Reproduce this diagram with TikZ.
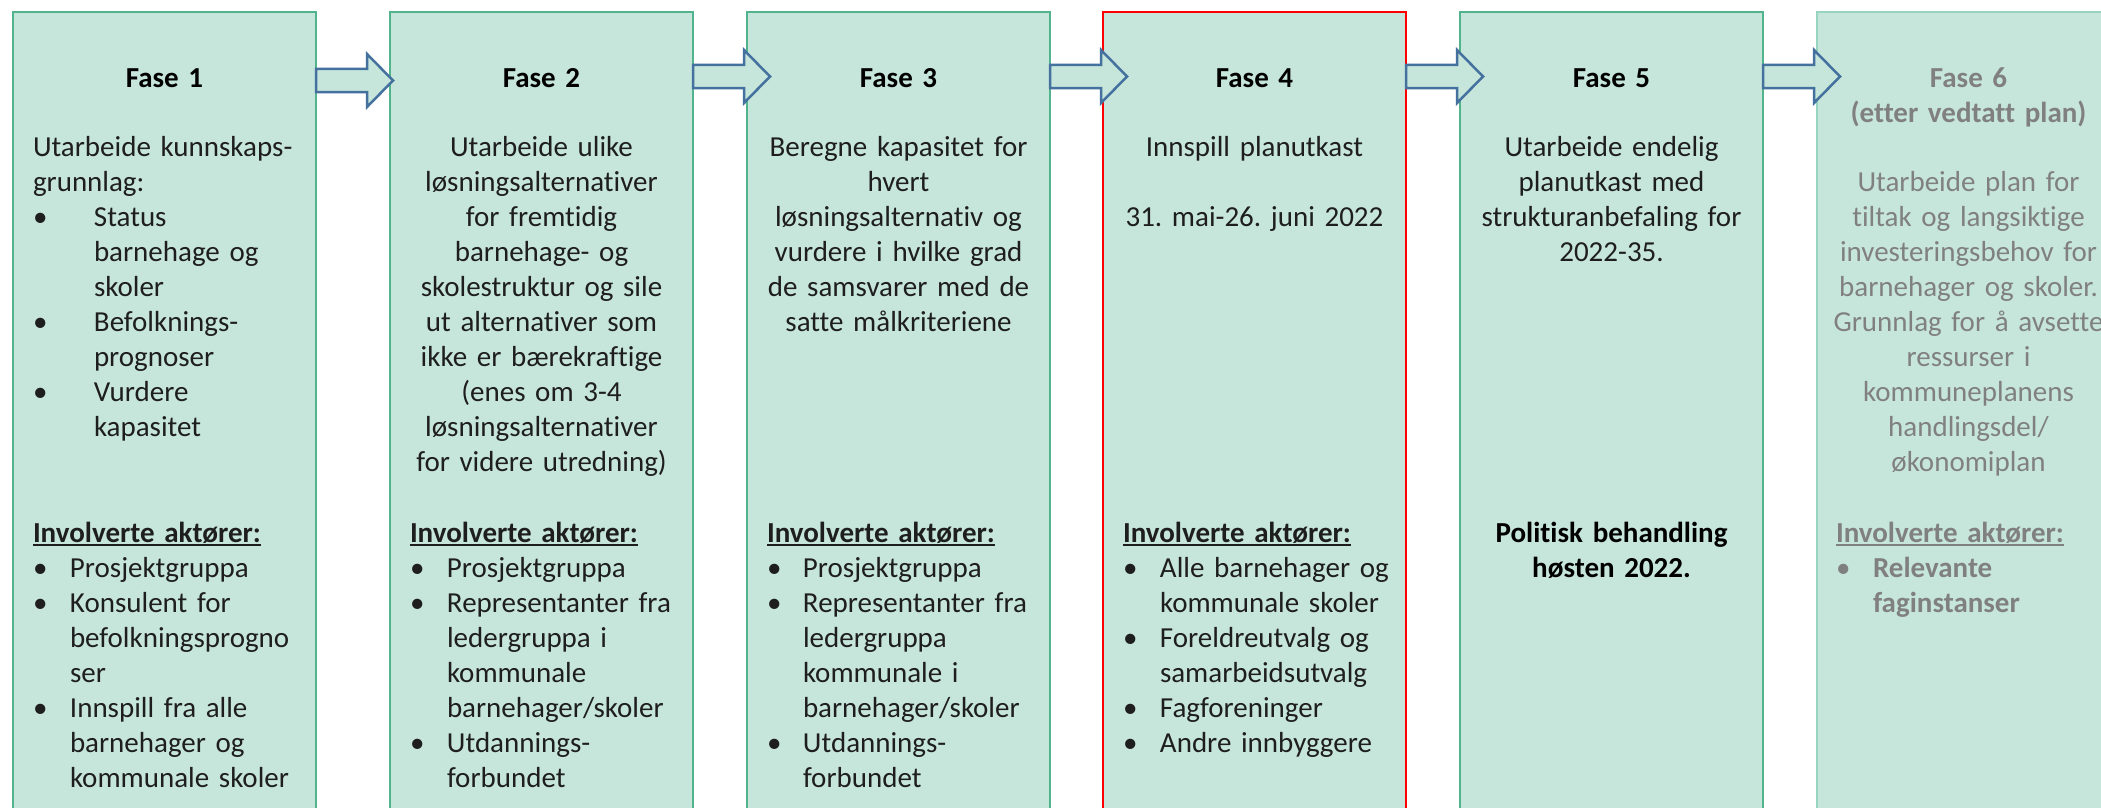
\documentclass[tikz,border=0pt]{standalone}
\usepackage{fontspec}
\setmainfont{Carlito}[Ligatures={NoCommon,NoContextual}, Contextuals={NoAlternate}]
\usetikzlibrary{calc}
\frenchspacing
\definecolor{boxfill}{HTML}{C7E6DB}
\definecolor{boxgreen}{HTML}{52B48C}
\definecolor{boxpale}{HTML}{98D5BE}
\definecolor{arrowblue}{HTML}{44719E}
\definecolor{fadegray}{HTML}{808080}
\definecolor{bodyblack}{HTML}{1E1E1E}
\newcommand\bodyfont{\fontsize{29pt}{35.1pt}\selectfont}
\newcommand\sst{\rule{0pt}{30pt}}
\newcommand\bl[1]{\makebox[#1pt][l]{•}}
\newcommand\idt[1]{\hspace*{#1pt}}
\newcommand\ulx[1]{\setbox0\hbox{#1}\rlap{\rule[-4pt]{\wd0}{2pt}}\box0}
\newcommand\phasearrow[2]{\draw[barrow] ($(#1.north east)+(0,#2-11.5)$) -- ++(51,0) -- ++(0,-15) -- ++(26,26.5) -- ++(-26,26.5) -- ++(0,-15) -- ++(-51,0) -- cycle;}
\begin{document}
\begin{tikzpicture}[x=1pt,y=-1pt,
  box/.style={draw=boxgreen, fill=boxfill, line width=2.7pt, minimum width=303pt, minimum height=860pt, anchor=north west, inner sep=0pt, outer sep=0pt},
  hdr/.style={font=\bodyfont\bfseries, anchor=north, inner sep=0pt, outer sep=0pt, text width=300pt, align=center},
  ctext/.style={font=\bodyfont, anchor=north, inner sep=0pt, outer sep=0pt, text width=300pt, align=center, text=bodyblack},
  ltext/.style={font=\bodyfont, anchor=north west, inner sep=0pt, outer sep=0pt, text width=285pt, align=left, text=bodyblack},
  barrow/.style={draw=arrowblue, fill=boxfill, line width=2.5pt, line join=miter}]
\path[use as bounding box] (0,0) rectangle (2101,808);
\clip (0,0) rectangle (2101,808);
\fill[white] (0,0) rectangle (2101,808);

% phase boxes
\node[box] (b1) at (13,12) {};
\node[box] (b2) at (390,12) {};
\node[box] (b3) at (747,12) {};
\node[box, draw=red] (b4) at (1103,12) {};
\node[box] (b5) at (1460,12) {};
\node[box, draw=boxpale] (b6) at (1817,12) {};

% arrows
\phasearrow{b1}{68.5}
\phasearrow{b2}{64.5}
\phasearrow{b3}{64.5}
\phasearrow{b4}{64.5}
\phasearrow{b5}{64.5}

% Fase 1
\node[hdr] (h1) at ($(b1.north)+(0,45)$) {\sst Fase 1};
\node[ltext] (t1) at ($(b1.north west)+(20,114)$) {\sst Utarbeide kunnskaps-\\
grunnlag:\\
\bl{61}Status\\
\idt{61}barnehage og\\
\idt{61}skoler\\
\bl{61}Befolknings-\\
\idt{61}prognoser\\
\bl{61}Vurdere\\
\idt{61}kapasitet};
\node[ltext] (a1) at ($(b1.north west)+(20,500)$) {\sst\ulx{\bfseries Involverte aktører:}\\
\bl{37}Prosjektgruppa\\
\bl{37}Konsulent for\\
\idt{37}befolkningsprogno\\
\idt{37}ser\\
\bl{37}Innspill fra alle\\
\idt{37}barnehager og\\
\idt{37}kommunale skoler};

% Fase 2
\node[hdr] (h2) at ($(b2.north)+(0,45)$) {\sst Fase 2};
\node[ctext] (t2) at ($(b2.north)+(0,114)$) {\sst Utarbeide ulike\\
løsningsalternativer\\
for fremtidig\\
barnehage- og\\
skolestruktur og sile\\
ut alternativer som\\
ikke er bærekraftige\\
(enes om 3-4\\
løsningsalternativer\\
for videre utredning)};
\node[ltext] (a2) at ($(b2.north west)+(20,500)$) {\sst\ulx{\bfseries Involverte aktører:}\\
\bl{37}Prosjektgruppa\\
\bl{37}Representanter fra\\
\idt{37}ledergruppa i\\
\idt{37}kommunale\\
\idt{37}barnehager/skoler\\
\bl{37}Utdannings-\\
\idt{37}forbundet};

% Fase 3
\node[hdr] (h3) at ($(b3.north)+(0,45)$) {\sst Fase 3};
\node[ctext] (t3) at ($(b3.north)+(0,114)$) {\sst Beregne kapasitet for\\
hvert\\
løsningsalternativ og\\
vurdere i hvilke grad\\
de samsvarer med de\\
satte målkriteriene};
\node[ltext] (a3) at ($(b3.north west)+(20,500)$) {\sst\ulx{\bfseries Involverte aktører:}\\
\bl{36}Prosjektgruppa\\
\bl{36}Representanter fra\\
\idt{36}ledergruppa\\
\idt{36}kommunale i\\
\idt{36}barnehager/skoler\\
\bl{36}Utdannings-\\
\idt{36}forbundet};

% Fase 4
\node[hdr] (h4) at ($(b4.north)+(0,45)$) {\sst Fase 4};
\node[ctext] (t4) at ($(b4.north)+(0,114)$) {\sst Innspill planutkast\\
\mbox{}\\
31. mai-26. juni 2022};
\node[ltext] (a4) at ($(b4.north west)+(20,500)$) {\sst\ulx{\bfseries Involverte aktører:}\\
\bl{37}Alle barnehager og\\
\idt{37}kommunale skoler\\
\bl{37}Foreldreutvalg og\\
\idt{37}samarbeidsutvalg\\
\bl{37}Fagforeninger\\
\bl{37}Andre innbyggere};

% Fase 5
\node[hdr] (h5) at ($(b5.north)+(0,45)$) {\sst Fase 5};
\node[ctext] (t5) at ($(b5.north)+(0,114)$) {\sst Utarbeide endelig\\
planutkast med\\
strukturanbefaling for\\
2022-35.};
\node[hdr] (p5) at ($(b5.north)+(0,500)$) {\sst Politisk behandling\\
høsten 2022.};

% Fase 6
\node[hdr, text=fadegray] (h6) at ($(b6.north)+(0,45)$) {\sst Fase 6\\
(etter vedtatt plan)};
\node[ctext, text=fadegray] (t6) at ($(b6.north)+(0,149)$) {\sst Utarbeide plan for\\
tiltak og langsiktige\\
investeringsbehov for\\
barnehager og skoler.\\
Grunnlag for å avsette\\
ressurser i\\
kommuneplanens\\
handlingsdel/\\
økonomiplan};
\node[ltext, text=fadegray] (a6) at ($(b6.north west)+(19,500)$) {\sst\ulx{\bfseries Involverte aktører:}\\
\bl{37}\textbf{Relevante}\\
\idt{37}\textbf{faginstanser}};
\end{tikzpicture}
\end{document}
